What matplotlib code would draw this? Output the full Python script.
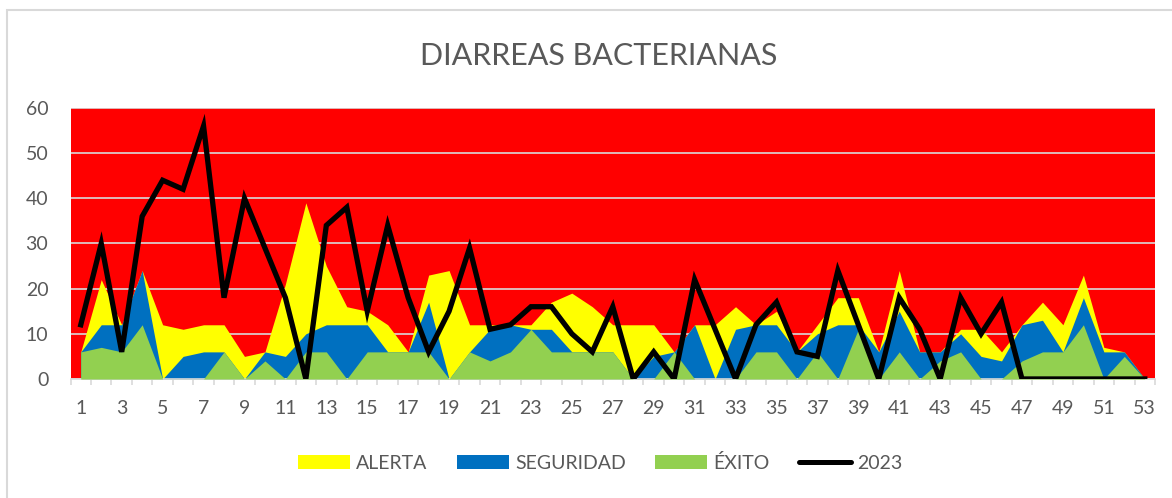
import matplotlib
matplotlib.use("Agg")
import matplotlib.pyplot as plt
from matplotlib.patches import Patch, Rectangle
from matplotlib.lines import Line2D

plt.rcParams["font.family"] = ["Lato", "DejaVu Sans"]

weeks = list(range(1, 54))

alerta = [6, 22, 12, 24, 12, 11, 12, 12, 5, 6, 21, 39, 25, 16, 15, 12, 6, 23, 24, 12,
          12, 12, 12, 17, 19, 16, 12, 12, 12, 6, 12, 12, 16, 12, 15, 6, 12, 18, 18, 6,
          24, 6, 6, 11, 11, 6, 12, 17, 12, 23, 7, 6, 0]
seguridad = [6, 12, 12, 24, 0, 5, 6, 6, 0, 6, 5, 10, 12, 12, 12, 6, 6, 17, 0, 6,
             11, 12, 11, 11, 6, 6, 6, 0, 5, 6, 12, 0, 11, 12, 12, 6, 10, 12, 12, 6,
             15, 6, 6, 10, 5, 4, 12, 13, 6, 18, 6, 6, 0]
exito = [6, 7, 6, 12, 0, 0, 0, 6, 0, 4, 0, 6, 6, 0, 6, 6, 6, 6, 0, 6,
         4, 6, 11, 6, 6, 6, 6, 0, 0, 6, 0, 0, 0, 6, 6, 0, 6, 0, 11, 0,
         6, 0, 4, 6, 0, 0, 4, 6, 6, 12, 0, 5, 0]
casos_2023 = [12, 30, 6, 36, 44, 42, 56, 18, 40, 29, 18, 0, 34, 38, 15, 34, 18, 6, 15, 29,
              11, 12, 16, 16, 10, 6, 16, 0, 6, 0, 22, 11, 0, 12, 17, 6, 5, 24, 12, 0,
              18, 11, 0, 18, 10, 17, 0, 0, 0, 0, 0, 0, 0]

text_color = "#595959"
grid_color = "#D9D9D9"

fig = plt.figure(figsize=(11.72, 4.98), dpi=100)
ax = fig.add_axes([0.0602, 0.239, 0.9253, 0.5442])
ax.set_facecolor("#FF0000")

ax.fill_between(weeks, alerta, color="#FFFF00", linewidth=0, zorder=1)
ax.fill_between(weeks, seguridad, color="#0070C0", linewidth=0, zorder=2)
ax.fill_between(weeks, exito, color="#92D050", linewidth=0, zorder=3)
ax.plot(weeks, casos_2023, color="black", linewidth=3.8, solid_joinstyle="miter", zorder=4)

ax.set_xlim(0.5, 53.5)
ax.set_ylim(0, 60)
ax.set_yticks(range(0, 61, 10))
ax.set_xticks(range(1, 54, 2))
ax.set_xticks([w + 0.5 for w in range(0, 54)], minor=True)
ax.grid(axis="y", color=grid_color, linewidth=1.2)
ax.set_axisbelow(True)

for side in ["top", "right", "left"]:
    ax.spines[side].set_visible(False)
ax.spines["bottom"].set_color(grid_color)
ax.spines["bottom"].set_linewidth(1.2)

ax.tick_params(axis="x", which="major", length=0, pad=15, labelsize=14, labelcolor=text_color)
ax.tick_params(axis="x", which="minor", length=4.5, width=1.2, color=grid_color)
ax.tick_params(axis="y", length=0, pad=16, labelsize=14, labelcolor=text_color)

fig.text(0.511, 1 - 56 / 498, "DIARREAS BACTERIANAS", ha="center", va="center",
         fontsize=22, color=text_color)

handles = [
    Patch(facecolor="#FFFF00", edgecolor="none", label="ALERTA"),
    Patch(facecolor="#0070C0", edgecolor="none", label="SEGURIDAD"),
    Patch(facecolor="#92D050", edgecolor="none", label="ÉXITO"),
    Line2D([0], [0], color="black", linewidth=3.6, solid_capstyle="round", label="2023"),
]
fig.legend(handles=handles, loc="center", bbox_to_anchor=(0.512, 1 - 463 / 498), ncol=4,
           frameon=False, fontsize=14, labelcolor=text_color, handlelength=2.7,
           handleheight=0.75, handletextpad=0.3, columnspacing=1.5)

# marco gris del grafico
fig.patches.append(Rectangle((7 / 1172, -0.1), 1.2, 1 - 10 / 498 + 0.1, transform=fig.transFigure,
                             fill=False, edgecolor=grid_color, linewidth=1.5))

fig.savefig("out.png", dpi=100)
